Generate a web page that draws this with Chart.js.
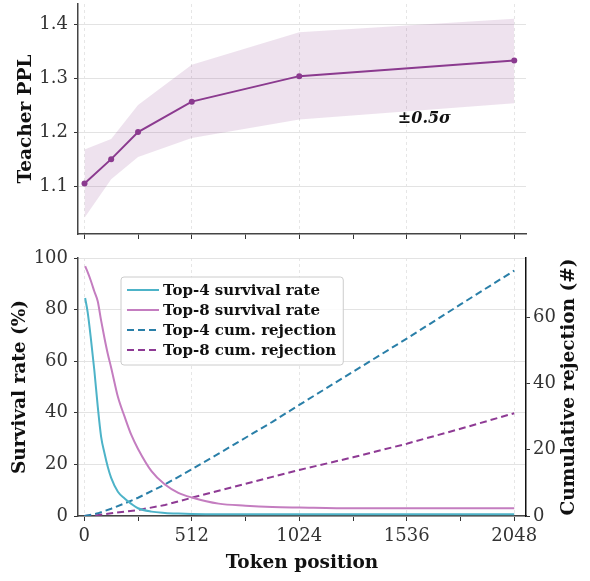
<!DOCTYPE html>
<html>
<head>
<meta charset="utf-8">
<script src="https://cdn.jsdelivr.net/npm/chart.js@4.4.0/dist/chart.umd.min.js"></script>
<style>
  html, body { margin: 0; padding: 0; background: #fff; }
  #wrap { position: relative; width: 590px; height: 581px; }
  #top { position: absolute; left: 0; top: 0; }
  #bottom { position: absolute; left: 0; top: 240px; }
</style>
</head>
<body>
<div id="wrap">
  <canvas id="top" width="590" height="240"></canvas>
  <canvas id="bottom" width="590" height="341"></canvas>
</div>
<script>
// top panel: teacher perplexity with +-0.5 sigma band
const pplPos = [1, 128, 256, 512, 1024, 2048];
const pplMean = [1.106, 1.151, 1.201, 1.257, 1.304, 1.333];
const pplLow = [1.043, 1.114, 1.155, 1.19, 1.224, 1.254];
const pplHigh = [1.169, 1.188, 1.251, 1.325, 1.385, 1.41];
const pplTicks = [1.1, 1.2, 1.3, 1.4];
const noteText = "±0.5σ";
const notePos = [1620, 1.225];

// bottom panel: survival rate (left axis) and cumulative rejection (right axis)
const survPos = [4, 16, 32, 48, 64, 80, 96, 112, 128, 160, 192, 224, 256, 320, 384, 448, 512, 640, 768, 896, 1024, 1280, 1536, 1792, 2048];
const top4Surv = [84.5, 79, 68.3, 56.3, 42.5, 30.8, 24.4, 19, 14.8, 9.4, 6.8, 4.7, 3.0, 1.7, 1.2, 0.95, 0.8, 0.7, 0.7, 0.7, 0.7, 0.7, 0.7, 0.7, 0.7];
const top8Surv = [96.8, 94.5, 91, 87, 83.2, 75.8, 69, 62.8, 57.5, 46.2, 38.5, 31.4, 26, 17.4, 12.2, 9.0, 7.2, 4.8, 4.0, 3.5, 3.3, 3.0, 3.0, 3.0, 3.0];
const cumPos = [0, 64, 128, 192, 256, 384, 512, 640, 768, 896, 1024, 1280, 1536, 1792, 2048];
const top4Cum = [0, 0.8, 2.2, 3.8, 5.5, 9.5, 14.1, 18.8, 23.6, 28.4, 33.5, 43.5, 53.5, 63.8, 74];
const top8Cum = [0, 0.3, 0.8, 1.3, 1.8, 3.3, 5.5, 7.6, 9.7, 11.8, 13.9, 17.7, 21.8, 26.3, 31];

const xTicks = [0, 256, 512, 768, 1024, 1280, 1536, 1792, 2048];
const survTicks = [0, 20, 40, 60, 80, 100];
const cumTicks = [0, 20, 40, 60];
const rightAxisTitle = "Cumulative rejection (#)";

const SERIF = '"DejaVu Serif", serif';
Chart.defaults.font.family = SERIF;
Chart.defaults.color = "#333";

const GRID = "#e3e3e3";
const VGRID = "#e6e6e6";
const SPINE = "#444";
const TITLE_SIZE = 18.5;

const pts = (xs, ys) => xs.map((x, i) => ({ x: x, y: ys[i] }));
const setTicks = (vals) => (axis) => { axis.ticks = vals.map((v) => ({ value: v })); };
const fixSize = (w, h) => (s) => {
  if (w != null) s.width = w;
  if (h != null) s.height = h;
  s.paddingTop = 0; s.paddingBottom = 0; s.paddingLeft = 0; s.paddingRight = 0;
};

function xScale(height, showLabels) {
  return {
    type: "linear",
    min: -30,
    max: 2104,
    afterBuildTicks: setTicks(xTicks),
    afterFit: fixSize(null, height),
    grid: {
      color: (c) => (c.tick && c.tick.value % 512 === 0 ? VGRID : "rgba(0,0,0,0)"),
      tickColor: "#333",
      tickLength: 5,
      tickBorderDash: [],
    },
    border: { color: SPINE, width: 1.5, dash: [3, 3] },
    ticks: {
      display: showLabels,
      padding: 5,
      maxRotation: 0,
      autoSkip: false,
      font: { size: 18 },
      callback: (v) => (v % 512 === 0 ? String(v) : ""),
    },
  };
}

const bandNote = {
  id: "bandNote",
  afterDatasetsDraw(chart) {
    const { ctx, scales } = chart;
    ctx.save();
    ctx.font = "italic bold 16px " + SERIF;
    ctx.fillStyle = "#111";
    ctx.textAlign = "center";
    ctx.textBaseline = "middle";
    ctx.fillText(noteText, scales.x.getPixelForValue(notePos[0]), scales.y.getPixelForValue(notePos[1]));
    ctx.restore();
  },
};

new Chart(document.getElementById("top"), {
  type: "line",
  data: {
    datasets: [
      {
        label: "Teacher PPL",
        data: pts(pplPos, pplMean),
        borderColor: "#8b3a8f",
        backgroundColor: "#8b3a8f",
        borderWidth: 2,
        pointRadius: 3,
        pointBorderWidth: 0,
        tension: 0,
        fill: false,
      },
      {
        label: "low",
        data: pts(pplPos, pplLow),
        borderWidth: 0,
        pointRadius: 0,
        fill: false,
      },
      {
        label: "high",
        data: pts(pplPos, pplHigh),
        borderWidth: 0,
        pointRadius: 0,
        backgroundColor: "rgba(142,59,143,0.15)",
        fill: "-1",
      },
    ],
  },
  options: {
    responsive: false,
    animation: false,
    layout: { padding: { top: 0, right: 64, bottom: 0, left: 0 } },
    plugins: { legend: { display: false }, tooltip: { enabled: false } },
    scales: {
      x: xScale(6, false),
      y: {
        min: 1.013,
        max: 1.437,
        afterBuildTicks: setTicks(pplTicks),
        afterFit: fixSize(78, null),
        grid: { color: GRID, tickColor: "#333", tickLength: 4 },
        border: { color: SPINE, width: 1.5 },
        ticks: { padding: 6, font: { size: 18 }, callback: (v) => v.toFixed(1) },
        title: {
          display: true,
          text: "Teacher PPL",
          color: "#111",
          font: { size: TITLE_SIZE, weight: "bold" },
          padding: { top: 15, bottom: 0 },
        },
      },
    },
  },
  plugins: [bandNote],
});

const legendBox = {
  id: "legendBox",
  afterDatasetsDraw(chart) {
    const { ctx, chartArea } = chart;
    const items = chart.data.datasets;
    ctx.save();
    ctx.font = "bold 15px " + SERIF;
    const textW = Math.max(...items.map((d) => ctx.measureText(d.label).width));
    const x = chartArea.left + 43;
    const y = chartArea.top + 19;
    const w = 42 + textW + 7;
    const h = 88;
    ctx.beginPath();
    ctx.roundRect(x, y, w, h, 3);
    ctx.fillStyle = "rgba(255,255,255,0.85)";
    ctx.fill();
    ctx.strokeStyle = "#cccccc";
    ctx.lineWidth = 1;
    ctx.stroke();
    items.forEach((d, i) => {
      const ry = y + 13 + i * 20;
      ctx.beginPath();
      ctx.setLineDash(d.borderDash || []);
      ctx.strokeStyle = d.borderColor;
      ctx.lineWidth = 2;
      ctx.moveTo(x + 6, ry);
      ctx.lineTo(x + 38, ry);
      ctx.stroke();
      ctx.setLineDash([]);
      ctx.fillStyle = "#111";
      ctx.textBaseline = "middle";
      ctx.fillText(d.label, x + 42, ry + 1);
    });
    ctx.restore();
  },
};

const rightTitle = {
  id: "rightTitle",
  afterDraw(chart) {
    const { ctx, chartArea } = chart;
    ctx.save();
    ctx.translate(569, (chartArea.top + chartArea.bottom) / 2);
    ctx.rotate(-Math.PI / 2);
    ctx.font = "bold " + TITLE_SIZE + "px " + SERIF;
    ctx.fillStyle = "#111";
    ctx.textAlign = "center";
    ctx.textBaseline = "middle";
    ctx.fillText(rightAxisTitle, 0, 0);
    ctx.restore();
  },
};

const bottomX = xScale(65, true);
bottomX.title = {
  display: true,
  text: "Token position",
  color: "#111",
  font: { size: TITLE_SIZE, weight: "bold" },
  padding: { top: 0, bottom: 7 },
};

new Chart(document.getElementById("bottom"), {
  type: "line",
  data: {
    datasets: [
      {
        label: "Top-4 survival rate",
        data: pts(survPos, top4Surv),
        borderColor: "#4db3c8",
        borderWidth: 2,
        pointRadius: 0,
        cubicInterpolationMode: "monotone",
        yAxisID: "y",
      },
      {
        label: "Top-8 survival rate",
        data: pts(survPos, top8Surv),
        borderColor: "#c47dc0",
        borderWidth: 2,
        pointRadius: 0,
        cubicInterpolationMode: "monotone",
        yAxisID: "y",
      },
      {
        label: "Top-4 cum. rejection",
        data: pts(cumPos, top4Cum),
        borderColor: "#2a7fa8",
        borderWidth: 2,
        borderDash: [7, 4],
        pointRadius: 0,
        tension: 0,
        yAxisID: "y2",
      },
      {
        label: "Top-8 cum. rejection",
        data: pts(cumPos, top8Cum),
        borderColor: "#8e3a94",
        borderWidth: 2,
        borderDash: [7, 4],
        pointRadius: 0,
        tension: 0,
        yAxisID: "y2",
      },
    ],
  },
  options: {
    responsive: false,
    animation: false,
    layout: { padding: { top: 18, right: 0, bottom: 0, left: 0 } },
    plugins: { legend: { display: false }, tooltip: { enabled: false } },
    scales: {
      x: bottomX,
      y: {
        position: "left",
        min: 0,
        max: 100,
        afterBuildTicks: setTicks(survTicks),
        afterFit: fixSize(78, null),
        grid: { color: GRID, tickColor: "#333", tickLength: 4 },
        border: { color: SPINE, width: 1.5 },
        ticks: { padding: 6, font: { size: 18 } },
        title: {
          display: true,
          text: "Survival rate (%)",
          color: "#111",
          font: { size: TITLE_SIZE, weight: "bold" },
          padding: { top: 9, bottom: 0 },
        },
      },
      y2: {
        position: "right",
        min: 0,
        max: 77.8,
        afterBuildTicks: setTicks(cumTicks),
        afterFit: fixSize(64, null),
        grid: { drawOnChartArea: false, tickColor: "#333", tickLength: 4 },
        border: { color: "#111", width: 1.5 },
        ticks: { padding: 3, font: { size: 18 } },
      },
    },
  },
  plugins: [legendBox, rightTitle],
});
</script>
</body>
</html>
